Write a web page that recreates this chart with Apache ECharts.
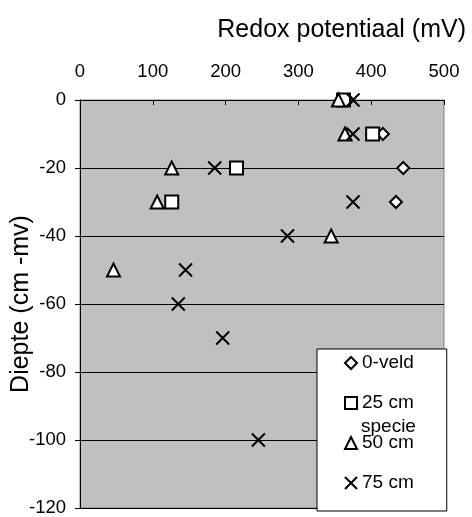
<!DOCTYPE html>
<html>
<head>
<meta charset="utf-8">
<script src="https://cdn.jsdelivr.net/npm/echarts@6/dist/echarts.min.js"></script>
<style>html,body{margin:0;padding:0;background:#fff}#c{width:472px;height:517px}</style>
</head>
<body>
<div id="c"></div>
<script>
// Depths (cm -mv) and redox potential (mV) per series
const veldDepth = [0, -10, -20, -30];
const veldRedox = [368, 416, 444, 434];
const cm25Depth = [0, -10, -20, -30];
const cm25Redox = [362, 402, 215, 126];
const cm50Depth = [0, -10, -20, -30, -40, -50];
const cm50Redox = [355, 364, 126, 106, 345, 46];
const cm75Depth = [0, -10, -20, -30, -40, -50, -60, -70, -100];
const cm75Redox = [375, 375, 185, 375, 285, 145, 135, 196, 245];
const seriesNames = ['0-veld', '25 cm specie', '50 cm', '75 cm'];
const xTicks = [0, 100, 200, 300, 400, 500];
const yTicks = [0, -20, -40, -60, -80, -100, -120];

const pair = (xs, ys) => xs.map((x, i) => [x, ys[i]]);
const FONT = 'Liberation Sans, Arial, sans-serif';
const mk = (name, xs, ys, symbol, size, fill) => ({
  name, type: 'scatter', data: pair(xs, ys), symbol, symbolSize: size,
  itemStyle: { color: fill, borderColor: '#000', borderWidth: 2, opacity: 1 },
  emphasis: { disabled: true }
});

const chart = echarts.init(document.getElementById('c'));
chart.setOption({
  animation: false,
  textStyle: { fontFamily: FONT },
  title: {
    text: 'Redox potentiaal (mV)', right: 1, top: 13,
    textStyle: { fontSize: 25, fontWeight: 'normal', color: '#000', fontFamily: FONT }
  },
  grid: {
    left: 80, right: 28, top: 100, bottom: 9,
    containLabel: false, outerBoundsMode: 'none',
    show: true, backgroundColor: '#c0c0c0', borderColor: '#808080', borderWidth: 1
  },
  xAxis: {
    type: 'value', position: 'top', min: xTicks[0], max: xTicks[xTicks.length - 1], interval: 100,
    axisLine: { show: true, onZero: false, lineStyle: { color: '#000', width: 1 } },
    axisTick: { show: true, inside: true, length: 5, lineStyle: { color: '#000' } },
    axisLabel: { fontSize: 18.5, color: '#000', margin: 19, fontFamily: FONT },
    splitLine: { show: false }
  },
  yAxis: {
    type: 'value', min: yTicks[yTicks.length - 1], max: yTicks[0], interval: 20,
    name: 'Diepte (cm -mv)', nameLocation: 'middle', nameGap: 46, nameRotate: 90,
    nameMoveOverlap: false,
    nameTextStyle: { fontSize: 25, color: '#000', fontFamily: FONT },
    axisLine: { show: true, onZero: false, lineStyle: { color: '#000', width: 1 } },
    axisTick: { show: true, inside: false, length: 5, lineStyle: { color: '#000' } },
    axisLabel: { fontSize: 18.5, color: '#000', margin: 14, fontFamily: FONT },
    splitLine: { show: true, lineStyle: { color: '#000', width: 1 } }
  },
  legend: {
    orient: 'vertical', left: 317, top: 349,
    padding: [4.5, 33, 18.5, 27], itemGap: 21, itemWidth: 12, itemHeight: 12, itemTextGap: 5,
    backgroundColor: '#fff', borderColor: '#000', borderWidth: 1, borderRadius: 0,
    selectedMode: false,
    data: seriesNames,
    formatter: n => n === '25 cm specie' ? '25 cm' : n,
    textStyle: { fontSize: 19, color: '#000', lineHeight: 19, fontFamily: FONT }
  },
  graphic: [{
    type: 'text', left: 361, top: 417, z: 200,
    style: { text: 'specie', fontSize: 19, fill: '#000', fontFamily: FONT }
  }],
  series: [
    mk(seriesNames[0], veldRedox, veldDepth, 'diamond', 12, '#fff'),
    mk(seriesNames[1], cm25Redox, cm25Depth, 'rect', 13, '#fff'),
    mk(seriesNames[2], cm50Redox, cm50Depth, 'triangle', 13, '#fff'),
    mk(seriesNames[3], cm75Redox, cm75Depth, 'path://M0,0L10,10M10,0L0,10', 13, 'rgba(0,0,0,0)')
  ]
});
</script>
</body>
</html>
